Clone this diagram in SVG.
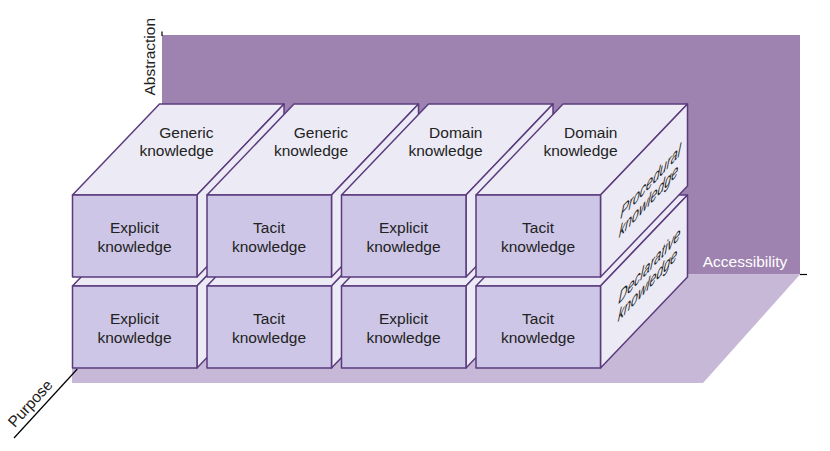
<svg xmlns="http://www.w3.org/2000/svg" width="830" height="451" viewBox="0 0 830 451">
<style>
.top{fill:#ecebf5;stroke:#5b3b7e;stroke-width:1.5;stroke-linejoin:round}
.front{fill:#cdc6e6;stroke:#5b3b7e;stroke-width:1.5;stroke-linejoin:round}
.t{font-family:"Liberation Sans",Arial,sans-serif;font-size:15.5px;fill:#222}
.c{text-anchor:middle}
.e{text-anchor:end}
.i{font-style:italic;text-anchor:middle}
.axis{stroke:#000;stroke-width:1.2;fill:none}
</style>
<rect width="830" height="451" fill="#fff"/>
<g id="backWall">
<rect x="162" y="35" width="638" height="239.5" fill="#9e82b0"/>
<line class="axis" x1="162" y1="31.5" x2="162" y2="36"/>
<text class="t c" x="155" y="56.7" transform="rotate(-90 155 56.7)">Abstraction</text>
<text class="t c" x="745" y="267.3" style="fill:#fff">Accessibility</text>
</g>
<g id="floor">
<polygon points="162,274.5 800,274.5 703,383 72,383 72,360" fill="#c6b8d6"/>
<line class="axis" x1="800" y1="274.5" x2="807" y2="274.5"/>
</g>
<g id="connectors">
<line class="axis" x1="14" y1="438" x2="77.3" y2="369"/>
</g>
<text class="t c" x="34.2" y="406.9" transform="rotate(-47.6 34.2 406.9)">Purpose</text>

<g id="cube-b1">
<polygon class="top" points="72.5,286 197,286 284,195 159.5,195"/>
<polygon class="top" points="197,286 284,195 284,277 197,368"/>
<rect class="front" x="72.5" y="286" width="124.5" height="82"/>
<text class="t c" x="134.5" y="323.5">Explicit</text>
<text class="t c" x="134.5" y="342.5">knowledge</text>
</g>
<g id="cube-b2">
<polygon class="top" points="207,286 331.5,286 418.5,195 294,195"/>
<polygon class="top" points="331.5,286 418.5,195 418.5,277 331.5,368"/>
<rect class="front" x="207" y="286" width="124.5" height="82"/>
<text class="t c" x="269" y="323.5">Tacit</text>
<text class="t c" x="269" y="342.5">knowledge</text>
</g>
<g id="cube-b3">
<polygon class="top" points="341.5,286 466,286 553,195 428.5,195"/>
<polygon class="top" points="466,286 553,195 553,277 466,368"/>
<rect class="front" x="341.5" y="286" width="124.5" height="82"/>
<text class="t c" x="403.5" y="323.5">Explicit</text>
<text class="t c" x="403.5" y="342.5">knowledge</text>
</g>
<g id="cube-b4">
<polygon class="top" points="476,286 600.5,286 687.5,195 563,195"/>
<polygon class="top" points="600.5,286 687.5,195 687.5,277 600.5,368"/>
<rect class="front" x="476" y="286" width="124.5" height="82"/>
<text class="t c" x="538" y="323.5">Tacit</text>
<text class="t c" x="538" y="342.5">knowledge</text>
<g transform="matrix(0.8,-0.86,-0.12,1.18,649,271.5)">
<text class="t i" x="0" y="0">Declarative</text>
<text class="t i" x="0" y="16.3">knowledge</text>
</g>
</g>

<g id="cube-t1">
<polygon class="top" points="72.5,195 197,195 284,104 159.5,104"/>
<polygon class="top" points="197,195 284,104 284,186 197,277"/>
<rect class="front" x="72.5" y="195" width="124.5" height="82"/>
<text class="t e" x="213.5" y="137.5">Generic</text>
<text class="t e" x="213.5" y="155.5">knowledge</text>
<text class="t c" x="134.5" y="232.5">Explicit</text>
<text class="t c" x="134.5" y="251.5">knowledge</text>
</g>
<g id="cube-t2">
<polygon class="top" points="207,195 331.5,195 418.5,104 294,104"/>
<polygon class="top" points="331.5,195 418.5,104 418.5,186 331.5,277"/>
<rect class="front" x="207" y="195" width="124.5" height="82"/>
<text class="t e" x="348" y="137.5">Generic</text>
<text class="t e" x="348" y="155.5">knowledge</text>
<text class="t c" x="269" y="232.5">Tacit</text>
<text class="t c" x="269" y="251.5">knowledge</text>
</g>
<g id="cube-t3">
<polygon class="top" points="341.5,195 466,195 553,104 428.5,104"/>
<polygon class="top" points="466,195 553,104 553,186 466,277"/>
<rect class="front" x="341.5" y="195" width="124.5" height="82"/>
<text class="t e" x="482.5" y="137.5">Domain</text>
<text class="t e" x="482.5" y="155.5">knowledge</text>
<text class="t c" x="403.5" y="232.5">Explicit</text>
<text class="t c" x="403.5" y="251.5">knowledge</text>
</g>
<g id="cube-t4">
<polygon class="top" points="476,195 600.5,195 687.5,104 563,104"/>
<polygon class="top" points="600.5,195 687.5,104 687.5,186 600.5,277"/>
<rect class="front" x="476" y="195" width="124.5" height="82"/>
<text class="t e" x="617.5" y="137.5">Domain</text>
<text class="t e" x="617.5" y="155.5">knowledge</text>
<text class="t c" x="538" y="232.5">Tacit</text>
<text class="t c" x="538" y="251.5">knowledge</text>
<g transform="matrix(0.8,-0.86,-0.12,1.18,650,187.5)">
<text class="t i" x="0" y="0">Procedural</text>
<text class="t i" x="0" y="16.3">knowledge</text>
</g>
</g>
</svg>
